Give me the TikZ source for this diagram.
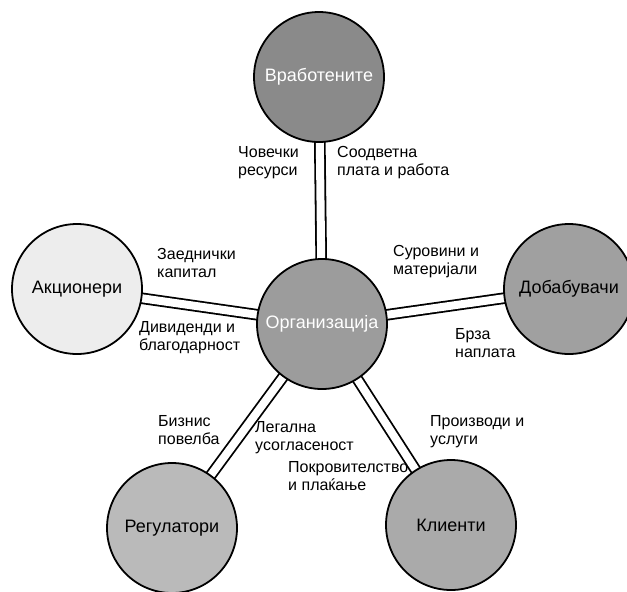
\documentclass[tikz,border=0pt]{standalone}
\usepackage{fontspec}
\setmainfont{Liberation Sans}
\usetikzlibrary{backgrounds}
\definecolor{gemp}{HTML}{8A8A8A}
\definecolor{gorg}{HTML}{9C9C9C}
\definecolor{gsh}{HTML}{EDEDED}
\definecolor{gsup}{HTML}{A0A0A0}
\definecolor{greg}{HTML}{BABABA}
\definecolor{gcli}{HTML}{AAAAAA}
\begin{document}
\begin{tikzpicture}[x=1pt,y=-1pt,
  party/.style={circle, draw=black, line width=1.8pt, minimum size=130pt, inner sep=0pt,
    font=\fontsize{18}{20}\selectfont},
  link/.style={draw=black, line width=1.8pt, double=white, double distance=8pt,
    shorten <=-5pt, shorten >=-5pt},
  lbl/.style={anchor=north west, inner sep=0pt, align=left, font=\fontsize{16}{18}\selectfont}]
\useasboundingbox (0,0) rectangle (627,592);

\node[party, fill=gemp, text=white] (emp) at (319,77) {Вработените};
\node[party, fill=gorg, text=white] (org) at (322,324) {Организација};
\node[party, fill=gsh] (sh) at (77,289) {Акционери};
\node[party, fill=gsup] (sup) at (569,289) {Добабувачи};
\node[party, fill=greg] (reg) at (172,528) {Регулатори};
\node[party, fill=gcli] (cli) at (451,525) {Клиенти};

\begin{pgfonlayer}{background}
  \fill[white] (0,0) rectangle (627,592);
  \draw[link] (org) -- (emp);
  \draw[link] (org) -- (sh);
  \draw[link] (org) -- (sup);
  \draw[link] (org) -- (reg);
  \draw[link] (org) -- (cli);
\end{pgfonlayer}

\node[lbl] (l1) at (238,146) {Човечки\\ресурси};
\node[lbl] (l2) at (337,146) {Соодветна\\плата и работа};
\node[lbl] (l3) at (157,248) {Заеднички\\капитал};
\node[lbl] (l4) at (139,321) {Дивиденди и\\благодарност};
\node[lbl] (l5) at (393,245) {Суровини и\\материјали};
\node[lbl] (l6) at (455,328) {Брза\\наплата};
\node[lbl] (l7) at (158,415) {Бизнис\\повелба};
\node[lbl] (l8) at (255,421) {Легална\\усогласеност};
\node[lbl] (l9) at (288,461) {Покровителство\\и плаќање};
\node[lbl] (l10) at (430,415) {Производи и\\услуги};
\end{tikzpicture}
\end{document}
